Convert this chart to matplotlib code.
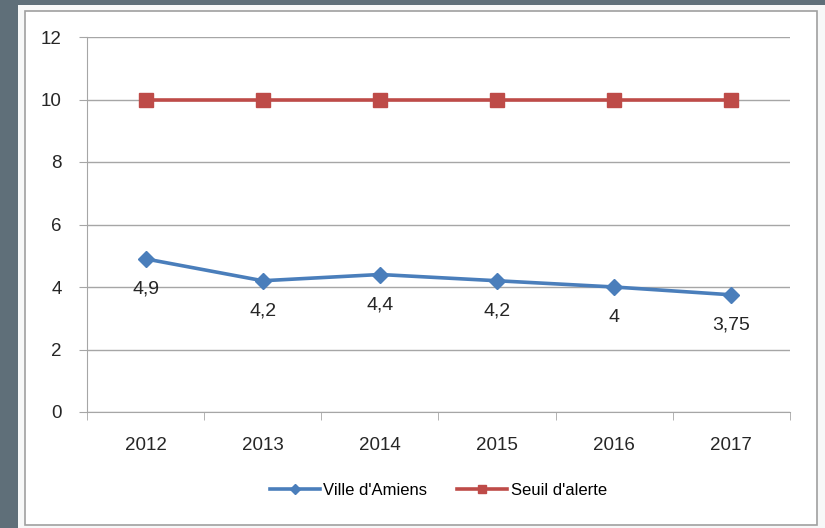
import matplotlib.pyplot as plt
import matplotlib.patches as mpatches
import numpy as np

plt.rcParams['font.family'] = ['Liberation Sans Narrow', 'Liberation Sans', 'DejaVu Sans']

years = ["2012", "2013", "2014", "2015", "2016", "2017"]
amiens = [4.9, 4.2, 4.4, 4.2, 4.0, 3.75]
amiens_labels = ["4,9", "4,2", "4,4", "4,2", "4", "3,75"]
seuil = [10, 10, 10, 10, 10, 10]

BLUE = "#4a7ebb"
RED = "#be4b48"
GRID = "#a6a6a6"
TXT = "#262626"

W, H = 825, 528
fig = plt.figure(figsize=(W / 100, H / 100), dpi=100)
fig.patch.set_facecolor("#5f6f79")


def px_rect(x0, y0, x1, y1, **kw):
    # rectangle given in pixel coords measured from the top-left corner
    return mpatches.Rectangle((x0 / W, 1 - y1 / H), (x1 - x0) / W, (y1 - y0) / H,
                              transform=fig.transFigure, zorder=-10, **kw)


# light sheet behind the chart, then the chart frame
fig.patches.append(px_rect(18, 5, W, H, facecolor="#f7f8f8", edgecolor="none"))
fig.patches.append(px_rect(25, 11, 817, 525, facecolor="white", edgecolor="#a0a0a0", lw=1.2))

ax = fig.add_axes([87 / W, 1 - 412 / H, 703 / W, 375 / H])
ax.set_facecolor("none")
x = np.arange(len(years))

ax.plot(x, amiens, color=BLUE, lw=2.6, marker="D", ms=8, mec=BLUE, label="Ville d'Amiens", zorder=3)
ax.plot(x, seuil, color=RED, lw=2.6, marker="s", ms=10, mec=RED, label="Seuil d'alerte", zorder=3)

for xi, yi, lab in zip(x, amiens, amiens_labels):
    ax.annotate(lab, (xi, yi), xytext=(0, -22), textcoords="offset points",
                ha="center", va="center", fontsize=14, color=TXT)

ax.set_xlim(-0.5, len(years) - 0.5)
ax.set_ylim(0, 12)
ax.set_yticks(range(0, 13, 2))
ax.set_yticklabels([str(v) for v in range(0, 13, 2)], fontsize=13.5, color=TXT)
ax.set_xticks(x)
ax.set_xticklabels(years, fontsize=13.5, color=TXT)
ax.set_xticks(np.arange(-0.5, len(years)), minor=True)
ax.tick_params(axis="x", which="major", length=0, pad=18)
ax.tick_params(axis="x", which="minor", length=6, color=GRID, direction="out")
ax.tick_params(axis="y", length=6, color=GRID, pad=12)

ax.grid(axis="y", color=GRID, lw=1.0)
ax.set_axisbelow(True)
for side in ["top", "right"]:
    ax.spines[side].set_visible(False)
for side in ["left", "bottom"]:
    ax.spines[side].set_color(GRID)

ax.legend(loc="center", bbox_to_anchor=(0.5, -0.21), ncol=2, frameon=False,
          fontsize=12, handlelength=3.0, markerscale=0.6, columnspacing=1.8,
          handletextpad=0.2)

fig.savefig("out.png", dpi=100, facecolor=fig.get_facecolor())
